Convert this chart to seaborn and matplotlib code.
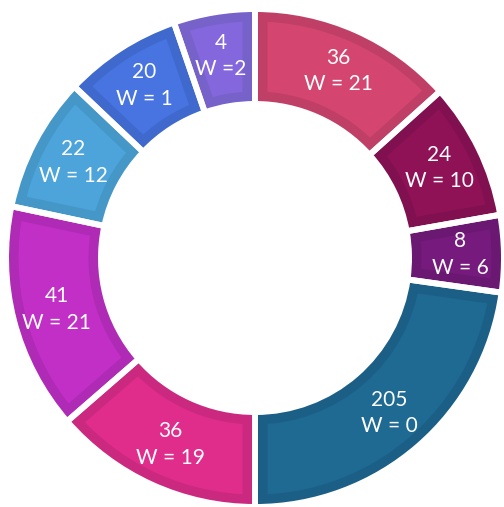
import matplotlib
matplotlib.use("Agg")
import matplotlib.pyplot as plt
import seaborn as sns

# slices clockwise from 12 o'clock
counts = [36, 24, 8, 205, 36, 41, 22, 20, 4]
w_labels = ["W = 21", "W = 10", "W = 6", "W = 0", "W = 19", "W = 21", "W = 12", "W = 1", "W =2"]
# slice sizes (degrees)
shares = [48, 32, 18, 82, 49, 53, 31.5, 27.5, 19]

fills = ['#D4466F', '#8F1257', '#771A7E', '#1F6A93', '#E02D8C',
         '#C22FC7', '#4CA4DA', '#4774E0', '#8467DD']
borders = ['#C03F66', '#80104F', '#6A1872', '#1C5F86', '#CB2980',
           '#AF2AB5', '#4597C8', '#3F69CC', '#7762C9']

sns.set_theme(style='white')
plt.rcParams['font.family'] = ['Lato', 'DejaVu Sans']

fig = plt.figure(figsize=(5.04, 5.07), dpi=100)
ax = fig.add_axes([0, 0, 1, 1])

R = 249
ring = 95
explode = [0.025 if c == max(counts) else 0 for c in counts]
labels = [f"{c}\n{w}" for c, w in zip(counts, w_labels)]

wedges, texts = ax.pie(shares, radius=R, startangle=90, counterclock=False,
                       colors=sns.color_palette(fills), explode=explode,
                       labels=labels, labeldistance=205 / R,
                       wedgeprops=dict(width=ring, linewidth=18))
for w, b in zip(wedges, borders):
    w.set_edgecolor(b)
    w.set_clip_on(True)
    w.set_clip_path(w)
for t in texts:
    t.set_ha('center')
    t.set_va('center')
    t.set_color('white')
    t.set_fontsize(15)
    t.set_linespacing(1.4)

# white gaps between slices
ax.pie(shares, radius=R, startangle=90, counterclock=False, explode=explode,
       wedgeprops=dict(width=ring, facecolor='none', edgecolor='white', linewidth=4.3))

ax.set_xlim(-255, 249)
ax.set_ylim(-249, 258)
ax.set_aspect('equal')
ax.axis('off')
fig.savefig('out.png', dpi=100)
